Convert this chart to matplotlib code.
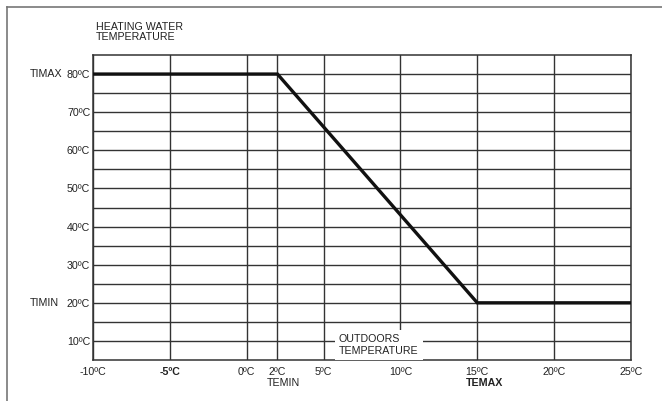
import matplotlib.pyplot as plt
from matplotlib.lines import Line2D
import matplotlib.transforms as mtransforms

plt.rcParams['font.family'] = ['Liberation Sans', 'DejaVu Sans']

# heating curve (outdoor temp -> water temp)
curve_x = [-10, 2, 15, 25]
curve_y = [80, 80, 20, 20]

x_ticks = [-10, -5, 0, 2, 5, 10, 15, 20, 25]
x_labels = ['-10ºC', '-5ºC', '0ºC', '2ºC', '5ºC', '10ºC', '15ºC', '20ºC', '25ºC']
y_ticks = [10, 20, 30, 40, 50, 60, 70, 80]
y_labels = ['10ºC', '20ºC', '30ºC', '40ºC', '50ºC', '60ºC', '70ºC', '80ºC']
y_minor = [15, 25, 35, 45, 55, 65, 75]

FS = 7.7
W, H = 662, 401
fig = plt.figure(figsize=(W / 100, H / 100), dpi=100)
ax = fig.add_axes([93 / W, 1 - 360 / H, 538 / W, 305 / H])

ax.set_xlim(-10, 25)
ax.set_ylim(5, 85)
ax.set_xticks(x_ticks)
ax.set_xticklabels(x_labels)
ax.set_yticks(y_ticks)
ax.set_yticklabels(y_labels)
ax.set_yticks(y_minor, minor=True)
ax.tick_params(which='both', length=0, labelsize=FS, colors='#222')
ax.tick_params(axis='x', pad=5)
ax.tick_params(axis='y', pad=2)
ax.grid(True, which='both', color='#333', lw=1.0)
for lab in ax.get_xticklabels():
    if lab.get_text() == '-5ºC':
        lab.set_fontweight('bold')
for s in ax.spines.values():
    s.set_color('#333')
    s.set_linewidth(1.1)

ax.plot(curve_x, curve_y, color='#111', lw=2.4, solid_joinstyle='miter', zorder=5)

# side / bottom labels
trans_y = mtransforms.blended_transform_factory(fig.transFigure, ax.transData)
ax.text(30 / W, 80, 'TIMAX', transform=trans_y, fontsize=FS, va='center', ha='left', color='#222')
ax.text(30 / W, 20, 'TIMIN', transform=trans_y, fontsize=FS, va='center', ha='left', color='#222')

trans_x = mtransforms.blended_transform_factory(ax.transData, fig.transFigure)
ax.text(2.4, 1 - 386 / H, 'TEMIN', transform=trans_x, fontsize=FS, ha='center', va='baseline', color='#222')
ax.text(15.5, 1 - 386 / H, 'TEMAX', transform=trans_x, fontsize=FS, ha='center', va='baseline',
        fontweight='bold', color='#222')

fig.text(96 / W, 1 - 40 / H, 'HEATING WATER\nTEMPERATURE', fontsize=FS, ha='left', va='baseline',
         linespacing=1.0, color='#222')

ax.text(6.0, 9.0, 'OUTDOORS\nTEMPERATURE', fontsize=FS, ha='left', va='center', linespacing=1.25,
        color='#222', zorder=6,
        bbox=dict(facecolor='white', edgecolor='none', pad=3))

# outer frame (left and top edges)
fig.add_artist(Line2D([7 / W, 7 / W], [0, 1 - 7 / H], color='#777', lw=1.2))
fig.add_artist(Line2D([7 / W, 1], [1 - 7 / H, 1 - 7 / H], color='#777', lw=1.2))

fig.savefig('out.png', dpi=100)
